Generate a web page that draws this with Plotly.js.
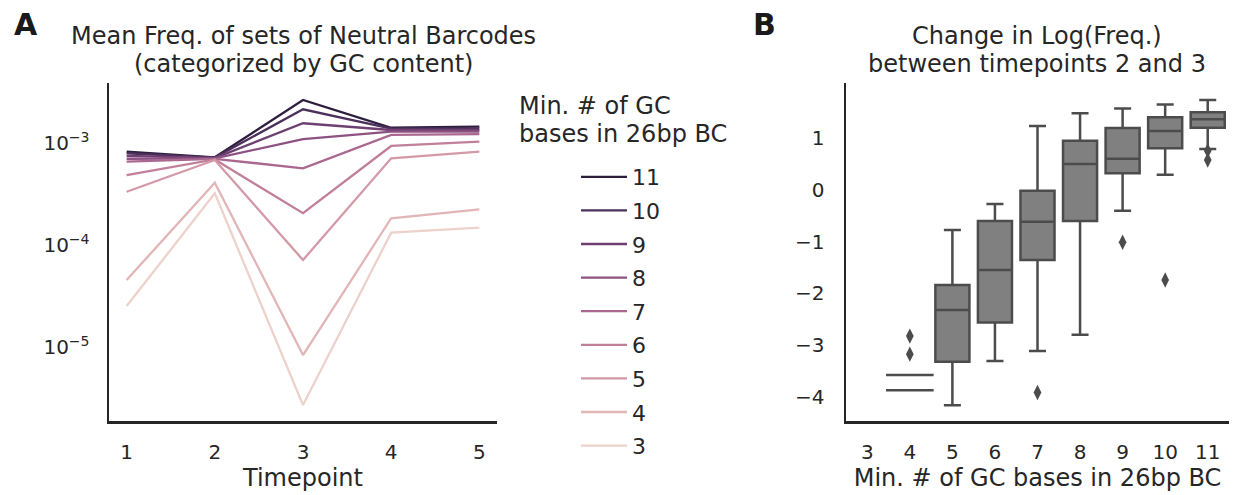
<!DOCTYPE html>
<html><head><meta charset="utf-8">
<script src="https://cdn.plot.ly/plotly-3.0.1.min.js"></script>
<style>html,body{margin:0;padding:0;background:#fff}#chart{width:1235px;height:495px}</style>
</head><body><div id="chart"></div>
<script>
// ---------- Panel A data: mean frequency per timepoint, by min # of GC bases ----------
const timepoints = [1, 2, 3, 4, 5];
const gcLevels = [11, 10, 9, 8, 7, 6, 5, 4, 3];
const freqGC11 = [8.22e-4, 7.24e-4, 2.64e-3, 1.41e-3, 1.445e-3];
const freqGC10 = [7.93e-4, 7.20e-4, 2.14e-3, 1.38e-3, 1.39e-3];
const freqGC9  = [7.46e-4, 7.13e-4, 1.56e-3, 1.34e-3, 1.34e-3];
const freqGC8  = [7.01e-4, 7.07e-4, 1.09e-3, 1.29e-3, 1.29e-3];
const freqGC7  = [6.56e-4, 7.00e-4, 5.65e-4, 1.20e-3, 1.22e-3];
const freqGC6  = [4.85e-4, 6.90e-4, 2.05e-4, 9.35e-4, 1.03e-3];
const freqGC5  = [3.33e-4, 6.81e-4, 7.13e-5, 7.08e-4, 8.22e-4];
const freqGC4  = [4.54e-5, 4.08e-4, 8.35e-6, 1.83e-4, 2.24e-4];
const freqGC3  = [2.52e-5, 3.21e-4, 2.70e-6, 1.32e-4, 1.48e-4];
const freqSeries = [freqGC11, freqGC10, freqGC9, freqGC8, freqGC7, freqGC6, freqGC5, freqGC4, freqGC3];
const logTickVals = [1e-5, 1e-4, 1e-3];
const logTickText = ['10<sup>−5</sup>', '10<sup>−4</sup>', '10<sup>−3</sup>'];

// ---------- Panel B data: change in log(freq) between timepoints 2 and 3 ----------
const boxCategories = [3, 4, 5, 6, 7, 8, 9, 10, 11];
const boxX      = [5, 6, 7, 8, 9, 10, 11];
const boxQ1     = [-3.318, -2.558, -1.355, -0.602, 0.319, 0.800, 1.199];
const boxMedian = [-2.320, -1.548, -0.616, 0.498, 0.600, 1.135, 1.361];
const boxQ3     = [-1.838, -0.602, -0.017, 0.948, 1.193, 1.400, 1.496];
const boxLower  = [-4.154, -3.305, -3.112, -2.797, -0.403, 0.291, 0.788];
const boxUpper  = [-0.776, -0.274, 1.232, 1.477, 1.566, 1.643, 1.734];
const flatBoxX  = [4, 4];
const flatBoxY  = [-3.575, -3.865];
const outlierX  = [4, 4, 7, 9, 10, 11, 11];
const outlierY  = [-2.822, -3.170, -3.909, -1.013, -1.741, 0.755, 0.575];

// seaborn "ch:" cubehelix colormap (light .85 -> dark .15)
function cubehelix(v) {
  const x = 0.85 + (0.15 - 0.85) * v;
  const start = 0, rot = 0.4, gamma = 1, hue = 0.8;
  const xg = Math.pow(x, gamma);
  const a = hue * xg * (1 - xg) / 2;
  const phi = 2 * Math.PI * (start / 3 + rot * x);
  const f = (p0, p1) => Math.round(255 * Math.min(1, Math.max(0, xg + a * (p0 * Math.cos(phi) + p1 * Math.sin(phi)))));
  return 'rgb(' + f(-0.14861, 1.78277) + ',' + f(-0.29227, -0.90649) + ',' + f(1.97294, 0) + ')';
}

const FONT = 'DejaVu Sans';
const TXT = '#262626';
const BOXC = '#4c4c4c';
const W = 1235, H = 495;
const traces = [];

gcLevels.forEach((g, i) => {
  traces.push({
    type: 'scatter', mode: 'lines', x: timepoints, y: freqSeries[i],
    name: String(g), legendgroup: 'g' + g,
    line: {color: cubehelix((g - 3) / 8), width: 2.3},
    xaxis: 'x', yaxis: 'y', hoverinfo: 'x+y+name'
  });
});

traces.push({
  type: 'box', x: boxX, q1: boxQ1, median: boxMedian, q3: boxQ3,
  lowerfence: boxLower, upperfence: boxUpper, width: 0.8, whiskerwidth: 0.5,
  boxpoints: false, fillcolor: '#808080', line: {color: BOXC, width: 2.5},
  xaxis: 'x2', yaxis: 'y2', showlegend: false
});
traces.push({
  type: 'scatter', mode: 'markers', x: flatBoxX, y: flatBoxY,
  marker: {symbol: 'line-ew-open', size: 34, color: BOXC, line: {color: BOXC, width: 2.5}},
  xaxis: 'x2', yaxis: 'y2', showlegend: false
});
traces.push({
  type: 'scatter', mode: 'markers', x: outlierX, y: outlierY,
  marker: {symbol: 'diamond-tall', size: 11, color: BOXC},
  xaxis: 'x2', yaxis: 'y2', showlegend: false
});

const axBase = {
  showgrid: false, zeroline: false, showline: true, linecolor: TXT, linewidth: 2.5,
  ticks: '', tickfont: {family: FONT, size: 20, color: TXT}, automargin: false
};
const yDom = [1 - 421 / H, 1 - 83 / H];

function ann(text, px, py, xanchor, size, bold) {
  return {text: bold ? '<b>' + text + '</b>' : text, x: px / W, y: 1 - py / H, xref: 'paper', yref: 'paper',
          xanchor: xanchor, yanchor: 'middle', showarrow: false,
          font: {family: FONT, size: size, color: bold ? '#1a1a1a' : TXT}};
}

const layout = {
  width: W, height: H,
  margin: {l: 0, r: 0, t: 0, b: 0},
  paper_bgcolor: '#fff', plot_bgcolor: '#fff',
  font: {family: FONT, color: TXT},
  xaxis: Object.assign({}, axBase, {
    domain: [109 / W, 497 / W], range: [0.8, 5.2], tickvals: timepoints, anchor: 'y',
    ticklabelstandoff: 11,
    title: {text: 'Timepoint', font: {family: FONT, size: 24, color: TXT}, standoff: 7}
  }),
  yaxis: Object.assign({}, axBase, {
    domain: yDom, anchor: 'x',
    type: 'log', range: [-5.725, -2.412], tickvals: logTickVals, ticktext: logTickText,
    ticklabelstandoff: 13
  }),
  xaxis2: Object.assign({}, axBase, {
    domain: [846 / W, 1229 / W], range: [2.5, 11.5], tickvals: boxCategories,
    ticklabelstandoff: 11, anchor: 'y2',
    title: {text: 'Min. # of GC bases in 26bp BC', font: {family: FONT, size: 24, color: TXT}, standoff: 7}
  }),
  yaxis2: Object.assign({}, axBase, {
    domain: yDom, range: [-4.46, 2.06], tickvals: [-4, -3, -2, -1, 0, 1], anchor: 'x2',
    ticklabelstandoff: 15
  }),
  showlegend: true,
  legend: {
    x: 576 / W, y: 1 - 156 / H, xanchor: 'left', yanchor: 'top',
    font: {family: FONT, size: 22, color: TXT}, itemwidth: 46,
    tracegroupgap: 2, bgcolor: 'rgba(0,0,0,0)', borderwidth: 0
  },
  annotations: [
    ann('A', 12, 25, 'left', 30, true),
    ann('B', 751, 25, 'left', 30, true),
    ann('Mean Freq. of sets of Neutral Barcodes', 303, 36, 'center', 24),
    ann('(categorized by GC content)', 303, 64, 'center', 24),
    ann('Change in Log(Freq.)', 1037, 36, 'center', 24),
    ann('between timepoints 2 and 3', 1037, 64, 'center', 24),
    ann('Min. # of GC', 517, 106, 'left', 24),
    ann('bases in 26bp BC', 517, 134, 'left', 24)
  ]
};

Plotly.newPlot('chart', traces, layout, {displayModeBar: false, staticPlot: true});
</script>
</body></html>
